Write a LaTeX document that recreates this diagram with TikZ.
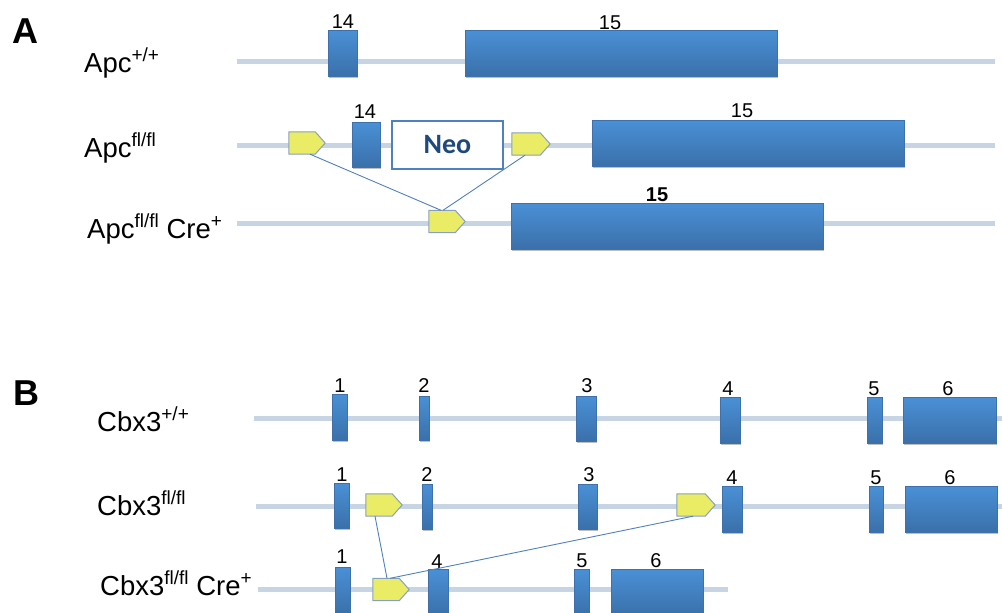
\documentclass[tikz,border=0pt]{standalone}
\usepackage{fontspec}
\setmainfont{Liberation Sans}
\newfontfamily\neofont{Carlito}
\usetikzlibrary{shadows}
\definecolor{lineC}{RGB}{198,212,228}
\definecolor{exTop}{RGB}{74,144,214}
\definecolor{exBot}{RGB}{58,112,170}
\definecolor{exBorder}{RGB}{62,112,172}
\definecolor{loxFill}{RGB}{233,236,100}
\definecolor{loxDraw}{RGB}{135,160,188}
\definecolor{neoBorder}{RGB}{79,129,189}
\definecolor{neoText}{RGB}{31,73,125}
\definecolor{connC}{RGB}{79,129,189}
\newcommand\sups[1]{\raisebox{0.4em}{\fontsize{19}{19}\selectfont #1}}
\newcommand\exonbox[5]{\node[exon, minimum width={#4pt-#2pt}, minimum height={#5pt-#3pt}] (#1) at ({(#2+#4)/2},{(#3+#5)/2}) {};}
\newcommand\loxp[4]{%
  \node[loxbox, minimum width=#4pt] (#1) at (#2,#3) {};
  \draw[loxst] (#1.north west) -- ([xshift=-10pt]#1.north east) -- (#1.east) -- ([xshift=-10pt]#1.south east) -- (#1.south west) -- cycle;}
\begin{document}
\begin{tikzpicture}[x=1pt,y=-1pt,
  backbone/.style={draw=lineC, line width=5pt},
  exon/.style={rectangle, inner sep=0pt, draw=exBorder, line width=0.6pt, top color=exTop, bottom color=exBot,
     drop shadow={shadow xshift=1.2pt, shadow yshift=-1.5pt, opacity=0.25, fill=black}},
  loxbox/.style={rectangle, inner sep=0pt, minimum height=22pt},
  loxst/.style={draw=loxDraw, line width=1pt, fill=loxFill, line join=round},
  conn/.style={draw=connC, line width=0.9pt},
  rowlab/.style={anchor=base west, inner sep=0pt, font=\fontsize{27.5}{29}\selectfont},
  num/.style={anchor=base, inner sep=0pt, font=\fontsize{20}{22}\selectfont},
  panel/.style={anchor=base west, inner sep=0pt, font=\fontsize{36}{38}\selectfont\bfseries},
  neobox/.style={rectangle, draw=neoBorder, line width=2pt, fill=white, text=neoText,
     minimum width=111pt, minimum height=48pt, inner sep=0pt, font=\neofont\fontsize{28}{29}\selectfont\bfseries}
]
\useasboundingbox (0,0) rectangle (1002,613);
\clip (0,0) rectangle (1002,613);

% ---------------- Panel A ----------------
\node[panel] (pA) at (12,43) {A};
\node[rowlab] (labA1) at (84,72) {Apc\sups{+/+}};
\node[rowlab] (labA2) at (84,157) {Apc\sups{fl/fl}};
\node[rowlab] (labA3) at (87,238) {Apc\sups{fl/fl} Cre\sups{+}};

\coordinate (a1s) at (237,61);  \coordinate (a1e) at (995,61);
\coordinate (a2s) at (237,145); \coordinate (a2e) at (995,145);
\coordinate (a3s) at (237,223); \coordinate (a3e) at (995,223);
\draw[backbone] (a1s) -- (a1e);
\draw[backbone] (a2s) -- (a2e);
\draw[backbone] (a3s) -- (a3e);

% row 1
\exonbox{eA1x14}{328}{30}{357}{76}
\exonbox{eA1x15}{465}{30}{777}{76}
\node[num] (nA1x14) at (343,28) {14};
\node[num] (nA1x15) at (610,29.5) {15};

% row 2
\loxp{lA1}{307}{143}{36}
\exonbox{eA2x14}{352}{122}{380}{167}
\node[neobox] (neo) at (447.5,145) {Neo};
\loxp{lA2}{531}{144}{38}
\exonbox{eA2x15}{592}{120}{904}{166}
\node[num] (nA2x14) at (365,118) {14};
\node[num] (nA2x15) at (742,117) {15};

% row 3
\loxp{lA3}{447}{221.5}{36}
\exonbox{eA3x15}{511}{203}{823}{249}
\node[num, font=\fontsize{20}{22}\selectfont\bfseries] (nA3x15) at (657,201) {15};

\draw[conn] ([xshift=3pt]lA1.south) -- ([xshift=-6pt]lA3.north);
\draw[conn] ([xshift=-6pt]lA2.south) -- ([xshift=-4pt]lA3.north);

% ---------------- Panel B ----------------
\node[panel] (pB) at (13,405) {B};
\node[rowlab] (labB1) at (97,431) {Cbx3\sups{+/+}};
\node[rowlab] (labB2) at (97,515) {Cbx3\sups{fl/fl}};
\node[rowlab] (labB3) at (100,595) {Cbx3\sups{fl/fl} Cre\sups{+}};

\coordinate (b1s) at (254,418); \coordinate (b1e) at (1002,418);
\coordinate (b2s) at (256,506); \coordinate (b2e) at (1002,506);
\coordinate (b3s) at (258,589); \coordinate (b3e) at (728,589);
\draw[backbone] (b1s) -- (b1e);
\draw[backbone] (b2s) -- (b2e);
\draw[backbone] (b3s) -- (b3e);

% row 1
\exonbox{eB1x1}{332}{394}{347}{440}
\exonbox{eB1x2}{419}{396}{429}{440}
\exonbox{eB1x3}{576}{396}{596}{441}
\exonbox{eB1x4}{720}{397}{740}{443}
\exonbox{eB1x5}{867}{397}{882}{443}
\exonbox{eB1x6}{903}{397}{996}{443}
\node[num] (nB1x1) at (340,392) {1};
\node[num] (nB1x2) at (424,392) {2};
\node[num] (nB1x3) at (587,392) {3};
\node[num] (nB1x4) at (728,395) {4};
\node[num] (nB1x5) at (874,395) {5};
\node[num] (nB1x6) at (948,395) {6};

% row 2
\exonbox{eB2x1}{334}{483}{349}{528}
\loxp{lB1}{384}{505}{36}
\exonbox{eB2x2}{422}{484}{432}{529}
\exonbox{eB2x3}{578}{484}{597}{529}
\loxp{lB2}{696}{505}{38}
\exonbox{eB2x4}{722}{486}{742}{532}
\exonbox{eB2x5}{869}{486}{883}{532}
\exonbox{eB2x6}{905}{486}{997}{532}
\node[num] (nB2x1) at (342,481) {1};
\node[num] (nB2x2) at (427,481) {2};
\node[num] (nB2x3) at (589,481) {3};
\node[num] (nB2x4) at (732,484) {4};
\node[num] (nB2x5) at (876,484) {5};
\node[num] (nB2x6) at (950,484) {6};

% row 3
\exonbox{eB3x1}{335}{567}{350}{614}
\loxp{lB3}{391}{589.5}{36}
\exonbox{eB3x4}{428}{569}{448}{616}
\exonbox{eB3x5}{574}{569}{589}{616}
\exonbox{eB3x6}{611}{569}{703}{616}
\node[num] (nB3x1) at (342,563) {1};
\node[num] (nB3x4) at (437,568) {4};
\node[num] (nB3x5) at (582,567) {5};
\node[num] (nB3x6) at (656,567) {6};

\draw[conn] ([xshift=-9pt]lB1.south) -- ([xshift=-4pt]lB3.north);
\draw[conn] ([xshift=-3pt]lB2.south) -- ([xshift=-1pt]lB3.north);
\end{tikzpicture}
\end{document}
